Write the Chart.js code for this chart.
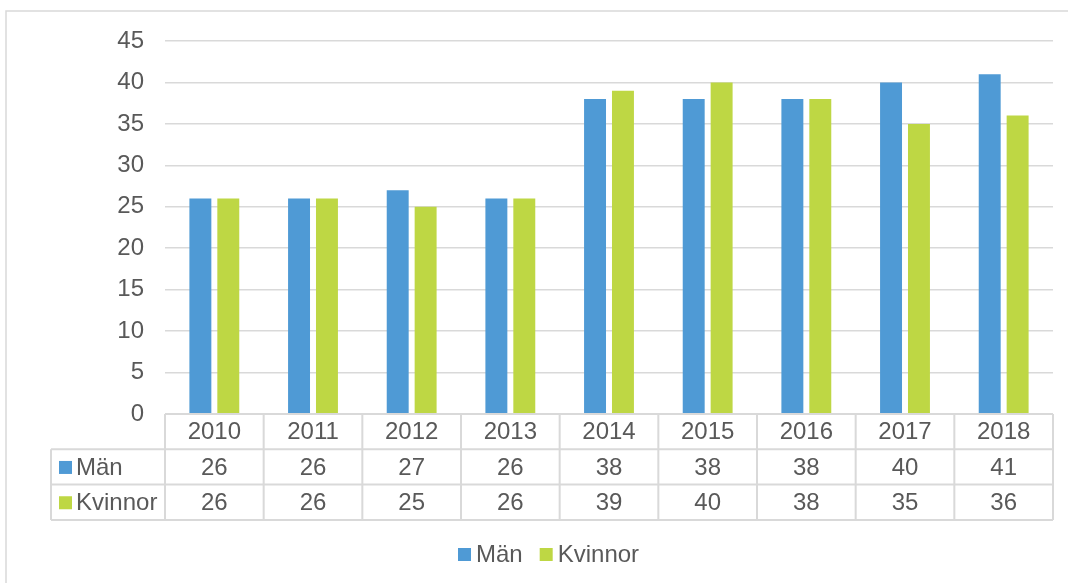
<!DOCTYPE html>
<html>
<head>
<meta charset="utf-8">
<script src="https://cdn.jsdelivr.net/npm/chart.js@4/dist/chart.umd.min.js"></script>
<style>
    html, body { margin: 0; padding: 0; background: #fff; }
    #wrap { width: 1068px; height: 583px; position: relative; }
</style>
</head>
<body>
<div id="wrap"><canvas id="chart"></canvas></div>
<script>
// Chart data
const years = ['2010', '2011', '2012', '2013', '2014', '2015', '2016', '2017', '2018'];
const manValues = [26, 26, 27, 26, 38, 38, 38, 40, 41];
const kvinnorValues = [26, 26, 25, 26, 39, 40, 38, 35, 36];
const seriesNames = ['Män', 'Kvinnor'];
const seriesColors = ['#4f9ad5', '#bed744'];

const FONT = "'Liberation Sans', Arial, sans-serif";
const TEXT_COLOR = '#595959';
const LINE_COLOR = '#d9d9d9';

// Draws outer frame, data table under the plot and the bottom legend
const tableAndLegend = {
    id: 'tableAndLegend',
    afterDraw(chart) {
        const ctx = chart.ctx;
        const area = chart.chartArea;
        const xScale = chart.scales.x;
        const colW = (area.right - area.left) / years.length;
        const rowH = 35.3;
        const top = area.bottom;
        const labelLeft = 51;
        const rows = [manValues, kvinnorValues];
        const nRows = rows.length + 1; // header + data rows

        ctx.save();
        // outer frame (only left and top visible)
        ctx.strokeStyle = LINE_COLOR;
        ctx.lineWidth = 1.5;
        ctx.beginPath();
        ctx.moveTo(6, chart.height + 5);
        ctx.lineTo(6, 11);
        ctx.lineTo(chart.width + 5, 11);
        ctx.stroke();

        // table grid
        ctx.lineWidth = 2;
        ctx.beginPath();
        ctx.moveTo(area.left, top); ctx.lineTo(area.right, top);
        for (let r = 1; r <= nRows; r++) {
            ctx.moveTo(labelLeft, top + r * rowH); ctx.lineTo(area.right, top + r * rowH);
        }
        for (let c = 0; c <= years.length; c++) {
            const x = area.left + c * colW;
            ctx.moveTo(x, top); ctx.lineTo(x, top + nRows * rowH);
        }
        ctx.moveTo(labelLeft, top + rowH); ctx.lineTo(labelLeft, top + nRows * rowH);
        ctx.stroke();

        // text
        ctx.font = '24px ' + FONT;
        ctx.fillStyle = TEXT_COLOR;
        ctx.textBaseline = 'middle';
        ctx.textAlign = 'center';
        years.forEach((y, i) => {
            const cx = xScale.getPixelForValue(i);
            ctx.fillText(y, cx, top + rowH / 2 + 1);
            rows.forEach((vals, r) => {
                ctx.fillText(String(vals[i]), cx, top + (r + 1) * rowH + rowH / 2 + 1);
            });
        });
        ctx.textAlign = 'left';
        seriesNames.forEach((name, r) => {
            const cy = top + (r + 1) * rowH + rowH / 2;
            ctx.fillStyle = seriesColors[r];
            ctx.fillRect(59, cy - 6, 13, 13);
            ctx.fillStyle = TEXT_COLOR;
            ctx.fillText(name, 76, cy + 1);
        });

        // bottom legend
        const ly = 554.5;
        let lx = 458;
        seriesNames.forEach((name, r) => {
            ctx.fillStyle = seriesColors[r];
            ctx.fillRect(lx, ly - 6.5, 13, 13);
            ctx.fillStyle = TEXT_COLOR;
            ctx.fillText(name, lx + 18, ly + 1);
            lx += 18 + ctx.measureText(name).width + 17;
        });
        ctx.restore();
    }
};

new Chart(document.getElementById('chart'), {
    type: 'bar',
    data: {
        labels: years,
        datasets: [
            { label: seriesNames[0], data: manValues, backgroundColor: seriesColors[0] },
            { label: seriesNames[1], data: kvinnorValues, backgroundColor: seriesColors[1] }
        ]
    },
    options: {
        responsive: true,
        maintainAspectRatio: false,
        animation: false,
        devicePixelRatio: 1,
        layout: { padding: { top: 41, right: 15, bottom: 169, left: 0 } },
        datasets: {
            bar: { barPercentage: 0.786, categoryPercentage: 0.566 }
        },
        scales: {
            x: { display: false },
            y: {
                min: 0,
                max: 45,
                ticks: { stepSize: 5, color: TEXT_COLOR, padding: 21, font: { family: FONT, size: 24 } },
                grid: { color: LINE_COLOR, lineWidth: 1.5, drawTicks: false },
                border: { display: false },
                afterFit(scale) { scale.width = 165; }
            }
        },
        plugins: {
            legend: { display: false },
            tooltip: { enabled: false }
        }
    },
    plugins: [tableAndLegend]
});
</script>
</body>
</html>
